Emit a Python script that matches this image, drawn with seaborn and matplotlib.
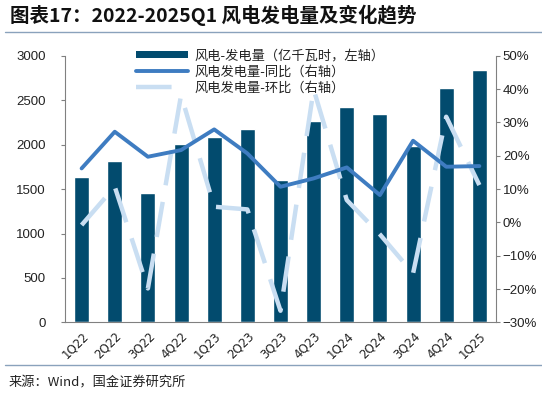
import pandas as pd
import matplotlib.pyplot as plt
import matplotlib.ticker as mticker
from matplotlib.lines import Line2D
from matplotlib.patches import Patch
import seaborn as sns

# data
quarters = ['1Q22', '2Q22', '3Q22', '4Q22', '1Q23', '2Q23', '3Q23',
            '4Q23', '1Q24', '2Q24', '3Q24', '4Q24', '1Q25']
generation = [1639, 1811, 1451, 2006, 2089, 2179, 1601,
              2265, 2426, 2344, 1984, 2633, 2835]
yoy = [16.2, 27.2, 19.7, 21.7, 27.9, 20.7, 10.7,
       13.2, 16.5, 8.2, 24.5, 16.7, 16.9]
qoq = [-0.8, 10.7, -19.8, 38.2, 4.7, 3.9, -26.5,
       39.9, 6.7, -3.6, -15.3, 31.7, 11.2]

bar_color = '#024B6E'
yoy_color = '#3E7CC1'
qoq_color = '#C9DEF2'

df = pd.DataFrame({'quarter': quarters, 'gen': generation, 'yoy': yoy, 'qoq': qoq})

sns.set_style('white')
plt.rcParams['font.family'] = ['Noto Sans CJK SC', 'DejaVu Sans']
plt.rcParams['axes.unicode_minus'] = True

fig = plt.figure(figsize=(5.42, 4.04), dpi=100)
ax = fig.add_axes([0.120, 0.202, 0.795, 0.660])

sns.barplot(data=df, x='quarter', y='gen', color=bar_color, width=0.45,
            saturation=1, ax=ax, zorder=1)
ax.set_ylim(0, 3000)
ax.set_yticks(range(0, 3001, 500))
ax.set_xlim(-0.5, len(quarters) - 0.5)
ax.set_xlabel('')
ax.set_ylabel('')

ax2 = ax.twinx()
sns.lineplot(data=df, x='quarter', y='qoq', color=qoq_color, linewidth=3.2,
             sort=False, ax=ax2, linestyle=(0, (8, 3.8)))
sns.lineplot(data=df, x='quarter', y='yoy', color=yoy_color, linewidth=2.8,
             sort=False, ax=ax2)
ax2.set_ylim(-30, 50)
ax2.set_yticks(range(-30, 51, 10))
ax2.yaxis.set_major_formatter(mticker.FuncFormatter(lambda v, p: f'{v:.0f}%'.replace('-', '\u2212')))
ax2.set_ylabel('')
ax2.set_xlim(-0.5, len(quarters) - 0.5)

# axes styling
for a in (ax, ax2):
    for s in a.spines.values():
        s.set_visible(False)
ax.spines['left'].set_visible(True)
ax.spines['bottom'].set_visible(True)
ax2.spines['right'].set_visible(True)
for s in (ax.spines['left'], ax.spines['bottom'], ax2.spines['right']):
    s.set_color('#808080')
    s.set_linewidth(0.8)

ax.tick_params(axis='y', direction='out', length=3, color='#808080',
               labelsize=9.5, pad=11, labelcolor='#222222')
ax2.tick_params(axis='y', direction='out', length=3, color='#808080',
                labelsize=9.5, pad=2, labelcolor='#222222')
for lbl in ax.get_yticklabels():
    lbl.set_fontfamily('Liberation Sans')
for lbl in ax2.get_yticklabels():
    lbl.set_fontfamily('Liberation Sans')

# x ticks sit between categories, pointing inward
ax.set_xticks([i + 0.5 for i in range(len(quarters) - 1)], minor=True)
ax.tick_params(axis='x', which='minor', direction='in', length=3, color='#808080')
ax.tick_params(axis='x', which='major', length=0, labelsize=8.5, pad=5, labelcolor='#222222')
ax.set_xticks(range(len(quarters)))
ax.set_xticklabels(quarters, rotation=45, ha='right', rotation_mode='anchor',
                   fontfamily='Liberation Sans Narrow')

# legend
handles = [
    Patch(facecolor=bar_color, edgecolor='none'),
    Line2D([0], [0], color=yoy_color, linewidth=2.8),
    Line2D([0], [0], color=qoq_color, linewidth=3.2, linestyle=(0, (8, 3.8))),
]
labels = ['风电-发电量（亿千瓦时，左轴）', '风电发电量-同比（右轴）', '风电发电量-环比（右轴）']
leg = ax2.legend(handles, labels, loc='upper left', bbox_to_anchor=(0.153, 1.045),
                 frameon=False, fontsize=9.5, handlelength=3.9, handleheight=0.5,
                 labelspacing=0.25, handletextpad=0.5, borderaxespad=0)
for t in leg.get_texts():
    t.set_color('#222222')

# title, rules and source
fig.text(0.018, 0.963, '图表17：2022-2025Q1 风电发电量及变化趋势', fontsize=14,
         fontweight='bold', fontstyle='italic', va='center', ha='left', color='#111111')
fig.add_artist(Line2D([0.01, 1.0], [0.921, 0.921], color='#8AA2BC', linewidth=1.0))
fig.add_artist(Line2D([0.01, 1.0], [0.097, 0.097], color='#8AA2BC', linewidth=1.0))
fig.text(0.015, 0.052, '来源：Wind，国金证券研究所', fontsize=9.5, va='center',
         ha='left', color='#222222')

plt.savefig('out.png', dpi=100)
plt.close()
